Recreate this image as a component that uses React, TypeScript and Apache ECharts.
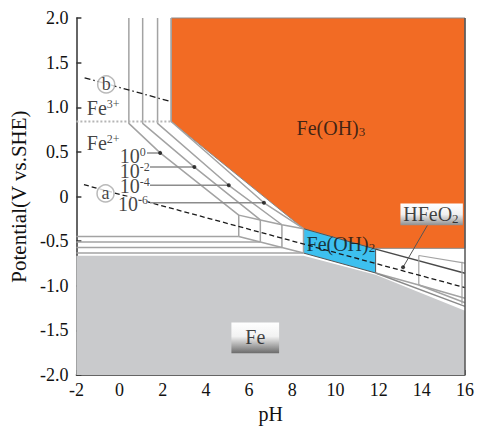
import React, { useEffect, useRef } from 'react';
import * as echarts from 'echarts';

const SERIF = 'Liberation Serif, Times New Roman, serif';

// axes
const PH_MIN = -2, PH_MAX = 16, PH_STEP = 2;
const E_MIN = -2, E_MAX = 2, E_STEP = 0.5;

// stability regions (pH, E)
const feOH3Region = [[2.39, 2.0], [16, 2.0], [16, -0.58], [11.86, -0.58], [11.86, -0.589], [8.52, -0.36], [2.39, 0.84]];
const feOH2Region = [[8.52, -0.36], [11.86, -0.589], [11.86, -0.856], [8.52, -0.633]];
const feRegion = [[-2, -2], [16, -2], [16, -1.28], [11.86, -0.875], [8.52, -0.662], [-2, -0.662]];

// concentration families (10^0, 10^-2, 10^-4, 10^-6)
const concExp = ['0', '-2', '-4', '-6'];
const fe3pH = [0.43, 1.07, 1.76, 2.39];
const bendE = [0.82, 0.82, 0.82, 0.84];
const dotPH = [1.88, 3.465, 5.058, 6.688];
const dotE = [0.489, 0.33, 0.126, -0.07];
const fe2pH = [5.52, 6.52, 7.52, 8.52];
const topE = [-0.208, -0.262, -0.316, -0.36];
const botE = [-0.448, -0.509, -0.57, -0.633];
const concLabelPH = [-0.02, -0.02, -0.02, -0.1];
const concLabelE = [0.455, 0.285, 0.122, -0.078];
const leaderPH = [1.27, 1.41, 1.41, 1.41];

// right part (HFeO2-)
const topRight = [[11.86, -0.589], [16, -0.86]];
const botRight = [[11.86, -0.856], [13.86, -0.99], [16, -1.14]];
const hfeo2Fe6 = [[11.86, -0.856], [16, -1.23]];
const hfeo2Fe4 = [[13.86, -0.99], [16, -1.19]];
const rightBoxTop = [[13.86, -0.66], [16, -0.745]];
const rightVert1 = [[13.86, -0.66], [13.86, -0.99]];
const rightVert2 = [[15.86, -0.73], [15.86, -1.2]];
const hfeo2Dot = [13.13, -0.792];
const hfeo2Leader = [[13.13, -0.792], [14.26, -0.322]];

// water lines
const lineA = [[-1.65, 0.133], [16, -1.02]];
const lineB = [[-1.62, 1.33], [2.39, 1.063]];
const fe3fe2Line = [[-2, 0.84], [2.39, 0.84]];
const circleLabels = [[-0.65, 0.035, 'a'], [-0.62, 1.256, 'b']];

// label boxes [pH0, E0, pH1, E1]
const hfeo2Box = [13.01, -0.078, 15.9, -0.322];
const feBox = [5.18, -1.411, 7.39, -1.756];

// text labels
const textLabels = [
  { x: -1.54, y: 0.995, text: '{b|Fe}{p|3+}', pos: 'right' },
  { x: -1.54, y: 0.605, text: '{b|Fe}{p|2+}', pos: 'right' },
  { x: 9.79, y: 0.77, text: '{b|Fe(OH)}{s|3}', pos: 'inside' },
  { x: 10.25, y: -0.53, text: '{b|Fe(OH)}{s|2}', pos: 'inside' },
  { x: 14.42, y: -0.2, text: '{b|HFeO}{s|2}', pos: 'inside' },
  { x: 6.29, y: -1.575, text: '{b|Fe}', pos: 'inside' },
];

const GRAY_LINE = '#a3a3a3';

function lineSeries(data: number[][], color: string, width: number, type: any = 'solid', z = 3) {
  return {
    type: 'line', data, symbol: 'none', silent: true, z,
    lineStyle: { color, width, type }, clip: true,
  };
}

function polygonSeries(points: number[][], fill: string, stroke: string | null, z: number) {
  return {
    type: 'custom', silent: true, z, data: [points[0]],
    renderItem: (_p: any, api: any) => ({
      type: 'polygon',
      shape: { points: points.map((p) => api.coord(p)) },
      style: { fill, stroke: stroke || 'none', lineWidth: 1 },
    }),
  };
}

function boxSeries(box: number[], stops: any[], z: number) {
  return {
    type: 'custom', silent: true, z, data: [[box[0], box[1]]],
    renderItem: (_p: any, api: any) => {
      const a = api.coord([box[0], box[1]]);
      const b = api.coord([box[2], box[3]]);
      return {
        type: 'rect',
        shape: { x: Math.min(a[0], b[0]), y: Math.min(a[1], b[1]), width: Math.abs(b[0] - a[0]), height: Math.abs(b[1] - a[1]) },
        style: { fill: new echarts.graphic.LinearGradient(0, 0, 0, 1, stops) },
      };
    },
  };
}

const rich = {
  b: { fontSize: 20, lineHeight: 14, fontFamily: SERIF, color: '#111' },
  p: { fontSize: 12, lineHeight: 6, fontFamily: SERIF, color: '#111', padding: [0, 0, 8, 0] },
  s: { fontSize: 13, lineHeight: 6, fontFamily: SERIF, color: '#111', padding: [8, 0, 0, 0] },
};

export default function App() {
  const ref = useRef<HTMLDivElement>(null);
  useEffect(() => {
    if (!ref.current) return;
    const chart = echarts.init(ref.current, null, { renderer: 'svg' });
    const series: any[] = [];

    series.push(polygonSeries(feRegion, '#c9cacc', null, 1));
    series.push(polygonSeries(feOH3Region, '#f26b24', '#8a8a8a', 1));
    series.push(polygonSeries(feOH2Region, '#3dc0ef', '#555555', 2));

    for (let k = 0; k < 4; k++) {
      series.push(lineSeries([[fe3pH[k], E_MAX], [fe3pH[k], bendE[k]], [dotPH[k], dotE[k]], [fe2pH[k], topE[k]]], GRAY_LINE, 1.5));
      series.push(lineSeries([[fe2pH[k], topE[k]], [fe2pH[k], botE[k]]], GRAY_LINE, 1.5));
      series.push(lineSeries([[PH_MIN, botE[k]], [fe2pH[k], botE[k]]], GRAY_LINE, 1.5));
      series.push(lineSeries([[leaderPH[k], dotE[k]], [dotPH[k], dotE[k]]], '#8c8c8c', 1.5, 'solid', 6));
    }
    series.push(lineSeries(fe2pH.map((p, i) => [p, topE[i]]), GRAY_LINE, 1.5));
    series.push(lineSeries(fe2pH.map((p, i) => [p, botE[i]]), GRAY_LINE, 1.5));

    series.push(lineSeries(topRight, '#4a4a4a', 1.5));
    series.push(lineSeries(botRight, GRAY_LINE, 1.5));
    series.push(lineSeries(hfeo2Fe6, '#8a8a8a', 1.5));
    series.push(lineSeries(hfeo2Fe4, GRAY_LINE, 1.5));
    series.push(lineSeries(rightBoxTop, GRAY_LINE, 1.2));
    series.push(lineSeries(rightVert1, GRAY_LINE, 1.2));
    series.push(lineSeries(rightVert2, GRAY_LINE, 1.2));
    series.push(lineSeries(hfeo2Leader, '#555', 1, 'solid', 6));

    series.push(lineSeries(fe3fe2Line, '#b5b5b5', 2, [2, 2], 4));
    series.push(lineSeries(lineA, '#1a1a1a', 1.3, [5, 3], 5));
    series.push(lineSeries(lineB, '#1a1a1a', 1.3, [6, 3, 1.5, 3], 5));
    series.push(lineSeries([[PH_MAX, E_MIN], [PH_MAX, E_MAX]], '#555', 1.5, 'solid', 5));

    series.push({
      type: 'scatter', silent: true, z: 7, symbolSize: 4,
      itemStyle: { color: '#111' },
      data: [...dotPH.map((p, i) => [p, dotE[i]]), hfeo2Dot],
    });

    series.push(boxSeries(hfeo2Box, [
      { offset: 0, color: '#ffffff' }, { offset: 0.5, color: '#f0f0f0' }, { offset: 1, color: '#8e8e8e' },
    ], 8));
    series.push(boxSeries(feBox, [
      { offset: 0, color: '#ffffff' }, { offset: 0.45, color: '#f2f2f2' }, { offset: 1, color: '#6a6a6a' },
    ], 8));

    series.push({
      type: 'scatter', silent: true, z: 8, symbolSize: 17,
      itemStyle: { color: '#ffffff', borderColor: '#a8a8a8', borderWidth: 1.5 },
      label: { show: true, position: 'inside', formatter: (p: any) => p.value[2], fontFamily: SERIF, fontSize: 18, color: '#111' },
      data: circleLabels,
    });

    series.push({
      type: 'scatter', silent: true, z: 9, symbolSize: 1,
      itemStyle: { color: 'rgba(0,0,0,0)' },
      data: [
        ...concExp.map((e, i) => ({
          value: [concLabelPH[i], concLabelE[i]],
          label: {
            show: true, position: 'right', distance: 0, formatter: `{b|10}{p|${e}}`, rich,
            fontFamily: SERIF,
            backgroundColor: i === 3 ? '#ffffff' : 'transparent',
          },
        })),
        ...textLabels.map((t) => ({
          value: [t.x, t.y],
          label: { show: true, position: t.pos, distance: 0, formatter: t.text, rich, fontFamily: SERIF },
        })),
      ],
    });

    chart.setOption({
      animation: false,
      textStyle: { fontFamily: SERIF },
      grid: { left: 74, right: 15, top: 18, bottom: 51 },
      xAxis: {
        type: 'value', min: PH_MIN, max: PH_MAX, interval: PH_STEP,
        name: 'pH', nameLocation: 'middle', nameGap: 27,
        nameTextStyle: { fontFamily: SERIF, fontSize: 20, color: '#111' },
        axisLine: { onZero: false, lineStyle: { color: '#333', width: 1.5 } },
        axisTick: { inside: true, length: 5, lineStyle: { color: '#333', width: 1.5 } },
        axisLabel: { fontFamily: SERIF, fontSize: 18, color: '#111', margin: 6 },
        splitLine: { show: false },
      },
      yAxis: {
        type: 'value', min: E_MIN, max: E_MAX, interval: E_STEP,
        name: 'Potential(V vs.SHE)', nameLocation: 'middle', nameGap: 46,
        nameTextStyle: { fontFamily: SERIF, fontSize: 21, color: '#111' },
        axisLine: { onZero: false, lineStyle: { color: '#333', width: 1.5 } },
        axisTick: { inside: true, length: 5, lineStyle: { color: '#333', width: 1.5 } },
        axisLabel: {
          fontFamily: SERIF, fontSize: 18, color: '#111', margin: 8,
          formatter: (v: number) => (v === 0 ? '0' : v.toFixed(1)),
        },
        splitLine: { show: false },
      },
      series,
    });
    return () => chart.dispose();
  }, []);
  return <div ref={ref} style={{ position: 'fixed', left: 0, top: 0, width: 480, height: 429, background: '#fff' }} />;
}
